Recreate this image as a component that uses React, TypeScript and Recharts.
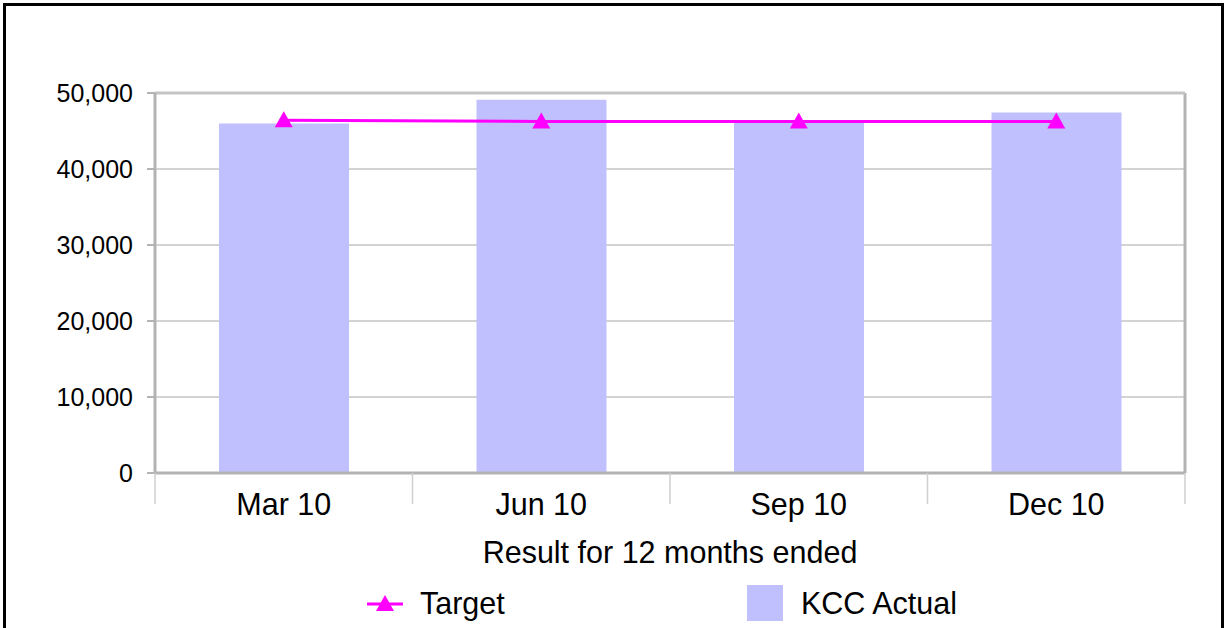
import {
  ComposedChart,
  Bar,
  Line,
  XAxis,
  YAxis,
  CartesianGrid,
  Legend,
  Label,
  ReferenceLine,
} from "recharts";

// values
const categories = ["Mar 10", "Jun 10", "Sep 10", "Dec 10"];
const kccActual = [46000, 49100, 46100, 47450];
const target = [46400, 46250, 46250, 46250];
const yTicks = [0, 10000, 20000, 30000, 40000, 50000];

const data = categories.map((period, i) => ({
  period,
  "KCC Actual": kccActual[i],
  Target: target[i],
}));

const W = 1226;
const H = 628;
const MARGIN = { top: 93, right: 41, left: 0, bottom: 0 };
const Y_AXIS_W = 155;
const PLOT_W = W - MARGIN.left - MARGIN.right - Y_AXIS_W;
const BAND = PLOT_W / categories.length;

const FONT = '"Liberation Sans", Arial, Helvetica, sans-serif';
const MAGENTA = "#ff00ff";
const BAR_FILL = "#c0c0ff";
const AXIS_GRAY = "#b3b3b3";
const BIG = 30.5;

const fmt = (v: number) => v.toLocaleString("en-US");

function CategoryTick({ x, y, payload, index }: any) {
  const half = BAND / 2;
  return (
    <g>
      <line x1={x - half} x2={x - half} y1={y} y2={y + 31} stroke="#cfcfcf" strokeWidth={1.5} />
      {index === categories.length - 1 && (
        <line x1={x + half} x2={x + half} y1={y} y2={y + 31} stroke="#cfcfcf" strokeWidth={1.5} />
      )}
      <text x={x} y={y + 42} textAnchor="middle" fontSize={BIG} fill="#000">
        {payload.value}
      </text>
    </g>
  );
}

function Triangle({ cx, cy }: any) {
  if (cx == null || cy == null) return null;
  return (
    <polygon
      points={`${cx},${cy - 9} ${cx - 9},${cy + 7} ${cx + 9},${cy + 7}`}
      fill={MAGENTA}
    />
  );
}

function LegendContent() {
  return (
    <div style={{ position: "relative", width: W, height: 50, fontFamily: FONT }}>
      <div style={{ position: "absolute", left: 367, top: 0, height: 50, display: "flex", alignItems: "center" }}>
        <svg width={36} height={20}>
          <line x1={0} x2={36} y1={11} y2={11} stroke={MAGENTA} strokeWidth={3} />
          <polygon points="18,2 9,18 27,18" fill={MAGENTA} />
        </svg>
        <span style={{ marginLeft: 17, fontSize: BIG, color: "#000" }}>Target</span>
      </div>
      <div style={{ position: "absolute", left: 747, top: 0, height: 50, display: "flex", alignItems: "center" }}>
        <div style={{ width: 36, height: 36, background: BAR_FILL }} />
        <span style={{ marginLeft: 18, fontSize: BIG, color: "#000" }}>KCC Actual</span>
      </div>
    </div>
  );
}

export default function App() {
  return (
    <div
      style={{
        position: "absolute",
        left: 0,
        top: 0,
        width: W,
        height: H,
        overflow: "hidden",
        background: "#fff",
        fontFamily: FONT,
      }}
    >
      <div
        style={{
          position: "absolute",
          left: 3,
          top: 3,
          width: 1221,
          height: 700,
          border: "3px solid #000",
          boxSizing: "border-box",
        }}
      />
      <div style={{ position: "absolute", left: 0, top: 0 }}>
        <ComposedChart width={W} height={H} data={data} margin={MARGIN}>
          <CartesianGrid vertical={false} stroke="#d3d3d3" strokeWidth={2} />
          {/* right-hand frame of the plot area */}
          <CartesianGrid
            horizontal={false}
            stroke={AXIS_GRAY}
            strokeWidth={3}
            verticalCoordinatesGenerator={({ offset }: any) => [offset.left + offset.width]}
          />
          <XAxis
            dataKey="period"
            height={105}
            tickSize={0}
            tickMargin={0}
            tick={<CategoryTick />}
            axisLine={{ stroke: AXIS_GRAY, strokeWidth: 3 }}
            tickLine={false}
          >
            <Label
              value="Result for 12 months ended"
              position="insideBottom"
              offset={15}
              fontSize={BIG}
              fill="#000"
            />
          </XAxis>
          <YAxis
            width={Y_AXIS_W}
            domain={[0, 50000]}
            ticks={yTicks}
            tickFormatter={fmt}
            tickSize={8}
            tickMargin={14}
            tick={{ fontSize: 25, fill: "#000" }}
            axisLine={{ stroke: AXIS_GRAY, strokeWidth: 3 }}
            tickLine={{ stroke: AXIS_GRAY, strokeWidth: 2 }}
          />
          <ReferenceLine y={50000} stroke="#c4c4c4" strokeWidth={3} />
          <Bar dataKey="KCC Actual" fill={BAR_FILL} barSize={130} isAnimationActive={false} />
          <Line
            type="linear"
            dataKey="Target"
            stroke={MAGENTA}
            strokeWidth={3}
            dot={<Triangle />}
            activeDot={false}
            isAnimationActive={false}
          />
          <Legend
            verticalAlign="bottom"
            wrapperStyle={{ left: 0, width: W, height: 50 }}
            content={<LegendContent />}
          />
        </ComposedChart>
      </div>
    </div>
  );
}
